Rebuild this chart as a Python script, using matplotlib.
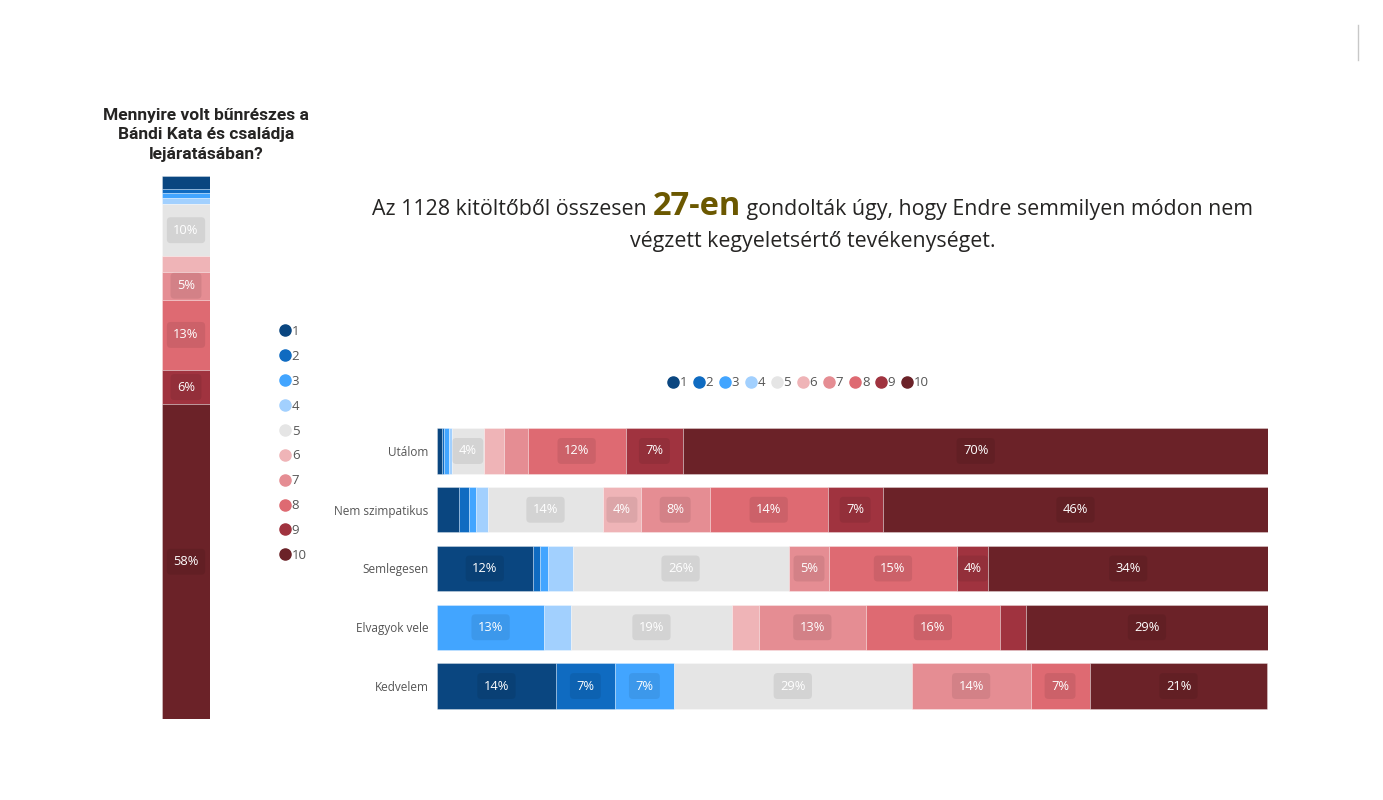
import matplotlib
matplotlib.use("Agg")
import matplotlib.pyplot as plt
from matplotlib.lines import Line2D
import numpy as np

# ---------------- data ----------------
levels = ["1", "2", "3", "4", "5", "6", "7", "8", "9", "10"]
colors = ["#0a4680", "#0f6bc1", "#42a5ff", "#a2d0fe", "#e5e5e5",
          "#efb4b7", "#e58d93", "#de6a72", "#a0333f", "#6b2228"]

categories = ["Utálom", "Nem szimpatikus", "Semlegesen", "Elvagyok vele", "Kedvelem"]
# percentage of each answer level (1..10) per category
utalom = [0.6, 0.3, 0.5, 0.4, 3.8, 2.5, 2.8, 11.8, 6.9, 70.4]
nem_szimpatikus = [2.6, 1.2, 0.9, 1.4, 13.9, 4.5, 8.3, 14.2, 6.6, 46.4]
semlegesen = [11.5, 0.9, 1.0, 2.9, 26.0, 0.0, 4.9, 15.3, 3.8, 33.7]
elvagyok = [0.0, 0.0, 12.9, 3.2, 19.4, 3.2, 12.9, 16.1, 3.1, 29.2]
kedvelem = [14.3, 7.1, 7.1, 0.0, 28.6, 0.0, 14.3, 7.1, 0.0, 21.4]
rows = [utalom, nem_szimpatikus, semlegesen, elvagyok, kedvelem]

# left column: overall distribution
overall = [2.45, 0.6, 1.0, 1.1, 9.65, 2.8, 5.2, 12.9, 6.3, 58.0]

left_title = "Mennyire volt bűnrészes a\nBándi Kata és családja\nlejáratásában?"
title_a = "Az 1128 kitöltőből összesen "
title_b = "27-en"
title_c = " gondolták úgy, hogy Endre semmilyen módon nem"
title_2 = "végzett kegyeletsértő tevékenységet."

LABEL_MIN = 3.5
W, H = 1383, 800
FONT = "Open Sans"

fig = plt.figure(figsize=(W / 100, H / 100), dpi=100)
fig.patch.set_facecolor("white")


def fx(px):
    return px / W


def fy(py):
    return 1 - py / H


def seg_label(ax, x, y, v):
    ax.text(x, y, f"{v:.0f}%", ha="center", va="center", color="white",
            fontsize=9.3, family=FONT,
            bbox=dict(boxstyle="round,pad=0.5,rounding_size=0.3",
                      fc=(0, 0, 0, 0.08), ec="none"))


# ---------------- main horizontal chart ----------------
ax = fig.add_axes([fx(437), fy(715.4), fx(1268.3) - fx(437), (715.4 - 421.6) / H])
ypos = np.arange(len(categories))
for r, vals in enumerate(rows):
    left = 0.0
    for k, v in enumerate(vals):
        if v > 0:
            ax.barh(r, v, left=left, height=0.77, color=colors[k],
                    edgecolor=(1, 1, 1, 0.35), linewidth=0.6)
            if v >= LABEL_MIN:
                seg_label(ax, left + v / 2, r, v)
        left += v
ax.set_xlim(0, 100)
ax.set_ylim(len(categories) - 0.5, -0.5)
ax.set_yticks(ypos)
ax.set_yticklabels(categories, family=FONT, fontsize=8.5, color="#555555")
ax.tick_params(axis="y", length=0, pad=6)
ax.set_xticks([])
for s in ax.spines.values():
    s.set_visible(False)

# ---------------- left vertical bar ----------------
axl = fig.add_axes([fx(161.7), fy(719.3), fx(210.3) - fx(161.7), (719.3 - 176) / H])
bottom = 0.0
for k, v in enumerate(overall):
    axl.bar(0, v, bottom=bottom, width=1.0, color=colors[k],
            edgecolor=(1, 1, 1, 0.35), linewidth=0.6)
    if v >= LABEL_MIN:
        seg_label(axl, 0, bottom + v / 2, v)
    bottom += v
axl.set_xlim(-0.5, 0.5)
axl.set_ylim(100, 0)
axl.axis("off")

fig.text(fx(206), fy(135), left_title, ha="center", va="center",
         family="Roboto", weight="bold", fontsize=12.5, color="#252423",
         linespacing=1.4)

# ---------------- legends ----------------
handles = [Line2D([], [], marker="o", linestyle="none", markersize=8,
                  markerfacecolor=c, markeredgecolor=c) for c in colors]
fig.legend(handles, levels, loc="center", bbox_to_anchor=(fx(797), fy(383)),
           ncol=10, frameon=False, handletextpad=-0.1, columnspacing=0.3,
           handlelength=1.2, prop=dict(family=FONT, size=9.5),
           labelcolor="#555555")
fig.legend(handles, levels, loc="center", bbox_to_anchor=(fx(292), fy(443.5)),
           ncol=1, frameon=False, handletextpad=-0.1, labelspacing=0.9,
           handlelength=1.2, prop=dict(family=FONT, size=9.5),
           labelcolor="#555555")

# ---------------- headline ----------------
fig.canvas.draw()
r = fig.canvas.get_renderer()
y1 = fy(215)
ta = fig.text(0, y1, title_a, family=FONT, fontsize=15.4, color="#252423",
              va="baseline")
tb = fig.text(0, y1, title_b, family=FONT, fontsize=23.5, weight="bold",
              color="#6b5800", va="baseline")
tc = fig.text(0, y1, title_c, family=FONT, fontsize=15.4, color="#252423",
              va="baseline")
wa = ta.get_window_extent(r).width
wb = tb.get_window_extent(r).width
wc = tc.get_window_extent(r).width
total = wa + wb + wc
x0 = 812.5 - total / 2
ta.set_x(fx(x0))
tb.set_x(fx(x0 + wa))
tc.set_x(fx(x0 + wa + wb))
fig.text(fx(813), fy(247), title_2, family=FONT, fontsize=15.4,
         color="#252423", ha="center", va="baseline")

# small decorative separator at top right
fig.add_artist(Line2D([fx(1358), fx(1358)], [fy(25), fy(60)],
                      color="#c8c8c8", linewidth=1))

fig.savefig("out.png", dpi=100, facecolor="white")
